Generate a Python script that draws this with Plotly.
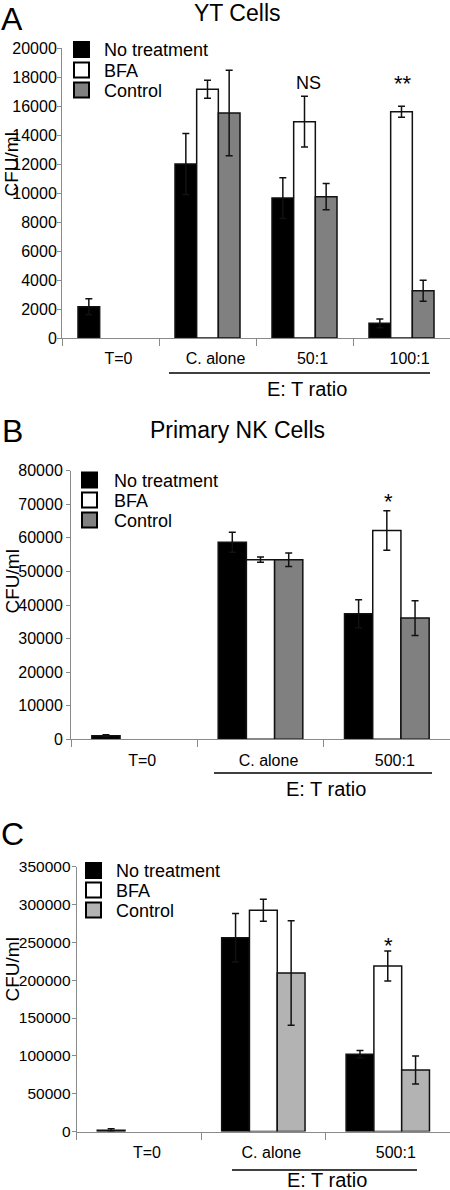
import plotly.graph_objects as go

W, H = 450, 1190
FONT = "Liberation Sans, Arial, Helvetica, sans-serif"

series_names = ["No treatment", "BFA", "Control"]

# Panel A: YT Cells
cats_a = ["T=0", "C. alone", "50:1", "100:1"]
a_nt = [2150, 12000, 9650, 1010]
a_nt_err = [550, 2100, 1400, 300]
a_bfa = [None, 17150, 14920, 15600]
a_bfa_err = [0, 620, 1750, 380]
a_ctl = [None, 15520, 9750, 3260]
a_ctl_err = [0, 2950, 900, 720]

# Panel B: Primary NK Cells
cats_b = ["T=0", "C. alone", "500:1"]
b_nt = [1070, 58700, 37400]
b_nt_err = [300, 3000, 4200]
b_bfa = [None, 53500, 62200]
b_bfa_err = [0, 800, 5900]
b_ctl = [None, 53500, 36100]
b_ctl_err = [0, 2000, 5200]

# Panel C
cats_c = ["T=0", "C. alone", "500:1"]
c_nt = [1500, 256000, 102000]
c_nt_err = [2000, 32000, 5000]
c_bfa = [None, 292400, 218700]
c_bfa_err = [0, 14500, 19800]
c_ctl = [None, 209500, 81300]
c_ctl_err = [0, 69000, 18500]

col_nt = "#000000"
col_bfa = "#ffffff"
col_ctl_ab = "#808080"
col_ctl_c = "#b3b3b3"


def px(x):
    return x / W


def py(y):
    return 1 - y / H


fig = go.Figure()

panels = [
    ("x", "y", cats_a, [(a_nt, a_nt_err, col_nt), (a_bfa, a_bfa_err, col_bfa), (a_ctl, a_ctl_err, col_ctl_ab)]),
    ("x2", "y2", cats_b, [(b_nt, b_nt_err, col_nt), (b_bfa, b_bfa_err, col_bfa), (b_ctl, b_ctl_err, col_ctl_ab)]),
    ("x3", "y3", cats_c, [(c_nt, c_nt_err, col_nt), (c_bfa, c_bfa_err, col_bfa), (c_ctl, c_ctl_err, col_ctl_c)]),
]

for xa, ya, cats, series in panels:
    for name, (vals, errs, col) in zip(series_names, series):
        fig.add_trace(go.Bar(
            x=cats, y=vals, name=name, xaxis=xa, yaxis=ya,
            marker=dict(color=col, line=dict(color="#111111", width=1.5)),
            error_y=dict(type="data", array=errs, visible=True, color="#111111",
                         thickness=1.5, width=3.5),
            showlegend=False,
        ))

# axis geometry (pixels)
geo = {
    "a": dict(x0=62, y0=338, y1=48, rng=[0, 20000], dtick=2000, tfs=16, so=-3),
    "b": dict(x0=71, y0=739.3, y1=470.7, rng=[0, 80000], dtick=10000, tfs=16, so=0),
    "c": dict(x0=76.7, y0=1131.5, y1=866.7, rng=[0, 350000], dtick=50000, tfs=15.5, so=-2),
}

axis_gray = "#8a8a8a"
layout_axes = {}
for i, key in enumerate(["a", "b", "c"]):
    g = geo[key]
    sfx = "" if i == 0 else str(i + 1)
    layout_axes["xaxis" + sfx] = dict(
        domain=[px(g["x0"]), 1.0], anchor="y" + sfx, type="category",
        showline=True, linecolor=axis_gray, linewidth=1,
        ticks="outside", tickson="boundaries", ticklen=7, tickcolor=axis_gray,
        tickfont=dict(size=16, color="black", family=FONT),
        ticklabelstandoff=6, ticklabelshift=8,
        showgrid=False, zeroline=False, fixedrange=True, automargin=False,
    )
    layout_axes["yaxis" + sfx] = dict(
        domain=[py(g["y0"]), py(g["y1"])], anchor="x" + sfx,
        range=g["rng"], dtick=g["dtick"], tickformat="d",
        showline=True, linecolor=axis_gray, linewidth=1,
        ticks="outside", ticklen=4, tickcolor=axis_gray,
        tickfont=dict(size=g["tfs"], color="black", family=FONT),
        ticklabelstandoff=g["so"],
        showgrid=False, zeroline=False, fixedrange=True, automargin=False,
    )

annotations = []
shapes = []


def text(x, y, s, size, angle=0, xanchor="center"):
    annotations.append(dict(
        x=px(x), y=py(y), xref="paper", yref="paper", text=s, showarrow=False,
        font=dict(size=size, color="black", family=FONT), textangle=angle,
        xanchor=xanchor, yanchor="middle",
    ))


# panel letters and titles
text(12, 19, "A", 32)
text(12, 431, "B", 32)
text(12, 834, "C", 32)
text(238, 13, "YT Cells", 23)
text(238, 430, "Primary NK Cells", 23)

# y titles
text(11.5, 165, "CFU/ml", 19, angle=-90)
text(11.5, 582, "CFU/ml", 19, angle=-90)
text(11.5, 970, "CFU/ml", 19, angle=-90)

# significance marks
text(308, 83, "NS", 18)
text(403, 84, "**", 22)
text(388, 501, "*", 22)
text(388, 945, "*", 22)

# E:T ratio underline + label
for (xa, xb, yl, xc, yt) in [(169, 430, 373, 307, 389), (214, 432, 773, 326, 789), (232, 417, 1170, 327, 1180)]:
    shapes.append(dict(type="line", xref="paper", yref="paper", x0=px(xa), x1=px(xb),
                       y0=py(yl), y1=py(yl), line=dict(color="black", width=1.5)))
    text(xc, yt, "E: T ratio", 20)

# manual legends
legend_pos = [
    (74, 102, [49.5, 70, 90], col_ctl_ab),
    (82, 112, [480, 500, 520], col_ctl_ab),
    (86, 114, [870.5, 890, 910], col_ctl_c),
]
for sx, tx, ys, cctl in legend_pos:
    for name, col, yc in zip(series_names, [col_nt, col_bfa, cctl], ys):
        shapes.append(dict(type="rect", xref="paper", yref="paper",
                           x0=px(sx), x1=px(sx + 15), y0=py(yc - 7.5), y1=py(yc + 7.5),
                           fillcolor=col, line=dict(color="black", width=2)))
        text(tx, yc + 1, name, 18, xanchor="left")

fig.update_layout(
    width=W, height=H, margin=dict(l=0, r=0, t=0, b=0, pad=0, autoexpand=False),
    paper_bgcolor="white", plot_bgcolor="white",
    barmode="group", bargap=0.33, bargroupgap=0,
    font=dict(family=FONT, color="black"),
    showlegend=False,
    annotations=annotations, shapes=shapes,
    **layout_axes,
)

fig.write_html(
    "out.html",
    config={"displayModeBar": False, "staticPlot": True},
    post_script="document.body.style.margin='0';document.body.style.overflow='hidden';",
)
